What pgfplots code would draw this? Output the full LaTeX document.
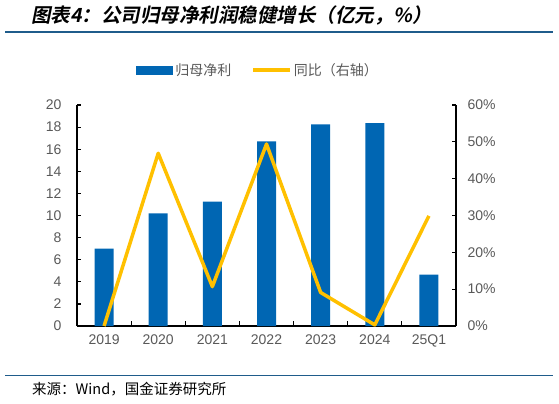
\documentclass[border=0pt]{standalone}
\usepackage{pgfplots}
\pgfplotsset{compat=1.18}
\usepackage{fontspec}
\setmainfont{Liberation Sans}
\newfontfamily\cjk{Noto Sans CJK SC}
\newfontfamily\cjkt[FakeSlant=0.2]{Noto Sans CJK SC Bold}
\definecolor{barblue}{HTML}{0066B3}
\definecolor{lineyellow}{HTML}{FFC000}
\definecolor{txtgray}{HTML}{595959}
\definecolor{rulecol}{HTML}{1F5C8B}

\begin{document}
\begin{tikzpicture}
\path[use as bounding box] (0,0) rectangle (559bp,-404bp);
% title and rules
\node[anchor=west, inner sep=0] at (31bp,-15bp) {\fontsize{19.5bp}{21bp}\cjkt 图表4：公司归母净利润稳健增长（亿元，\%）};
\draw[rulecol, line width=1.3bp] (5bp,-32bp) -- (553bp,-32bp);
\draw[rulecol, line width=1.3bp] (5bp,-375.5bp) -- (553bp,-375.5bp);
\node[anchor=west, inner sep=0] at (32bp,-389bp) {\fontsize{14.5bp}{16bp}\cjk 来源：Wind，国金证券研究所};

\begin{axis}[
  at={(77bp,-326bp)}, anchor=south west,
  width=379bp, height=221bp, scale only axis,
  xmin=-0.5, xmax=6.5, ymin=0, ymax=20,
  axis x line*=bottom, axis y line*=left,
  axis line style={black, line width=1.2bp},
  xtick={0,...,6},
  xticklabels={2019,2020,2021,2022,2023,2024,25Q1},
  major x tick style={draw=none},
  minor xtick={0.5,1.5,...,5.5},
  minor tick length=5bp,
  minor x tick style={black, line width=1.2bp},
  ytick={0,2,...,20},
  tick align=inside,
  major tick length=4bp,
  y tick style={black, line width=1.2bp},
  tick label style={font=\fontsize{14bp}{16bp}\selectfont, text=txtgray},
  /pgf/number format/assume math mode=true,
  yticklabel style={xshift=-12bp},
  xticklabel style={yshift=-5bp},
  legend style={at={(0.478,1.158)}, anchor=center, draw=none, fill=none,
    font=\fontsize{14bp}{16bp}\selectfont\cjk, text=txtgray,
    nodes={inner sep=2bp}, legend columns=2,
    /tikz/every even column/.append style={column sep=18bp}},
]
\addplot[ybar, bar width=19bp, fill=barblue, draw=none,
  legend image code/.code={\fill[barblue] (0bp,-4.5bp) rectangle (37bp,4.5bp);}]
  coordinates {(0,7.0) (1,10.2) (2,11.25) (3,16.7) (4,18.25) (5,18.35) (6,4.65)};
\addlegendentry{归母净利}
\addlegendimage{legend image code/.code={\draw[lineyellow, line width=3.5bp] (0bp,0bp) -- (37bp,0bp);}}
\addlegendentry{同比（右轴）}
\end{axis}

\begin{axis}[
  at={(77bp,-326bp)}, anchor=south west,
  width=379bp, height=221bp, scale only axis,
  xmin=-0.5, xmax=6.5, ymin=0, ymax=60,
  axis x line=none, axis y line*=right,
  axis line style={black, line width=1.2bp},
  ytick={0,10,...,60},
  yticklabels={0\%,10\%,20\%,30\%,40\%,50\%,60\%},
  tick align=inside,
  major tick length=4bp,
  y tick style={black, line width=1.2bp},
  tick label style={font=\fontsize{14bp}{16bp}\selectfont, text=txtgray},
  yticklabel style={xshift=8bp},
  clip=false,
]
\addplot[lineyellow, line width=3.5bp, line join=round, mark=none]
  coordinates {(0,0) (1,46.9) (2,10.7) (3,49.4) (4,9.1) (5,0.3) (6,29.9)};
\end{axis}
\end{tikzpicture}
\end{document}
